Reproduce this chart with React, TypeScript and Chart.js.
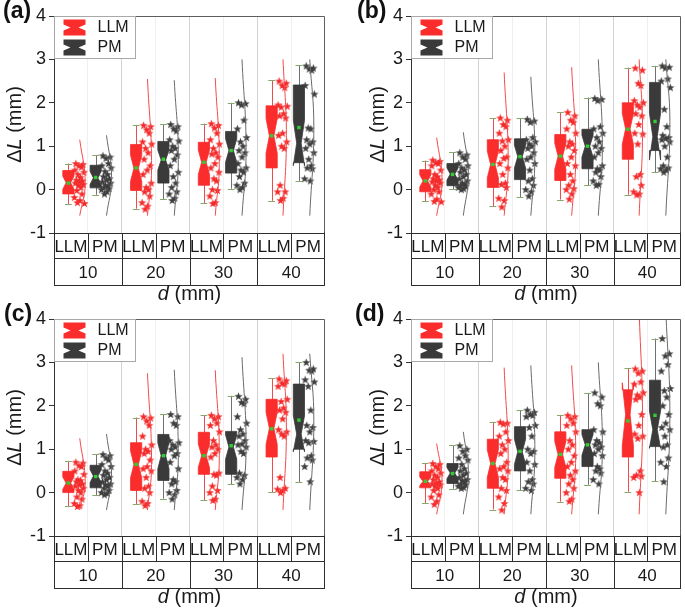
import React, { useEffect, useRef } from 'react';
import { Chart, registerables } from 'chart.js';
Chart.register(...registerables);

const FONT = '"Liberation Sans", Arial, Helvetica, sans-serif';
const GROUPS = ['10', '20', '30', '40'];
const METHODS = ['LLM', 'PM'];
const PANEL_LABELS = ['(a)', '(b)', '(c)', '(d)'];
const Y_TICK_MIN = -1;
const Y_TICK_MAX = 4;

// box stats rows: LLM10, PM10, LLM20, PM20, LLM30, PM30, LLM40, PM40
// [whiskerLow, q1, notchLow, median, notchHigh, q3, whiskerHigh, mean]
const STATS_A = [
  [-0.33, -0.10, 0.01, 0.16, 0.31, 0.44, 0.60, 0.15],
  [-0.12, 0.04, 0.12, 0.27, 0.42, 0.56, 0.80, 0.28],
  [-0.44, -0.02, 0.19, 0.49, 0.79, 1.04, 1.49, 0.50],
  [-0.22, 0.15, 0.45, 0.68, 0.91, 1.11, 1.51, 0.70],
  [-0.31, 0.10, 0.35, 0.63, 0.91, 1.09, 1.52, 0.63],
  [0.02, 0.38, 0.63, 0.90, 1.17, 1.34, 2.00, 0.90],
  [-0.26, 0.50, 0.84, 1.24, 1.64, 1.93, 2.52, 1.24],
  [0.20, 0.62, 0.55, 1.07, 1.60, 2.41, 2.86, 1.43],
];
const STATS_B = [
  [-0.27, -0.05, 0.06, 0.20, 0.34, 0.46, 0.67, 0.20],
  [0.01, 0.09, 0.22, 0.36, 0.50, 0.60, 0.86, 0.35],
  [-0.38, 0.05, 0.27, 0.58, 0.89, 1.15, 1.65, 0.58],
  [-0.18, 0.23, 0.50, 0.76, 1.02, 1.17, 1.65, 0.76],
  [-0.23, 0.21, 0.47, 0.77, 1.07, 1.27, 1.78, 0.77],
  [0.10, 0.48, 0.75, 1.00, 1.25, 1.39, 2.12, 1.00],
  [-0.12, 0.70, 1.04, 1.40, 1.76, 2.00, 2.81, 1.39],
  [0.40, 0.90, 0.68, 1.22, 1.76, 2.47, 2.85, 1.57],
];
const STATS_C = [
  [-0.32, 0.00, 0.08, 0.22, 0.36, 0.49, 0.72, 0.22],
  [-0.06, 0.11, 0.23, 0.38, 0.53, 0.63, 0.89, 0.37],
  [-0.27, 0.05, 0.34, 0.65, 0.96, 1.15, 1.73, 0.65],
  [-0.14, 0.28, 0.55, 0.85, 1.15, 1.34, 1.80, 0.85],
  [-0.18, 0.42, 0.58, 0.85, 1.12, 1.39, 1.78, 0.85],
  [0.19, 0.42, 0.77, 1.05, 1.33, 1.41, 2.23, 1.08],
  [0.01, 0.82, 1.11, 1.48, 1.85, 2.15, 2.63, 1.47],
  [0.24, 1.00, 0.94, 1.35, 1.77, 2.50, 3.00, 1.67],
];
const STATS_D = [
  [-0.25, 0.11, 0.16, 0.26, 0.36, 0.48, 0.68, 0.26],
  [0.09, 0.21, 0.32, 0.45, 0.58, 0.67, 1.09, 0.44],
  [-0.39, 0.10, 0.35, 0.67, 0.99, 1.23, 1.63, 0.67],
  [0.05, 0.50, 0.65, 0.94, 1.23, 1.52, 1.90, 0.95],
  [-0.21, 0.33, 0.58, 0.88, 1.18, 1.40, 1.79, 0.88],
  [0.18, 0.60, 0.86, 1.10, 1.34, 1.45, 2.30, 1.10],
  [0.02, 0.82, 1.08, 1.80, 2.53, 2.37, 2.86, 1.65],
  [0.26, 1.06, 1.02, 1.45, 1.88, 2.59, 3.55, 1.78],
];

// individual data points (stars), same row order
const STARS_A = [
  [0.6, 0.58, 0.55, 0.52, 0.45, 0.4, 0.35, 0.28, 0.22, 0.2, 0.18, 0.15, 0.12, 0.1, 0.05, -0.02, -0.1, -0.18, -0.25, -0.3, -0.32],
  [0.78, 0.75, 0.72, 0.6, 0.55, 0.5, 0.42, 0.35, 0.3, 0.25, 0.22, 0.18, 0.15, 0.1, 0.08, 0.05, 0.02, 0.0, -0.05, -0.1],
  [1.48, 1.45, 1.38, 1.3, 1.1, 1.05, 0.95, 0.85, 0.7, 0.55, 0.45, 0.35, 0.15, 0.05, 0.0, -0.05, -0.15, -0.3, -0.38, -0.45],
  [1.5, 1.45, 1.4, 1.35, 1.15, 1.12, 1.0, 0.95, 0.9, 0.8, 0.7, 0.55, 0.4, 0.3, 0.15, 0.05, -0.05, -0.1, -0.2, -0.25],
  [1.52, 1.48, 1.42, 1.3, 1.15, 1.05, 0.95, 0.85, 0.82, 0.75, 0.6, 0.5, 0.4, 0.25, 0.2, 0.0, -0.02, -0.15, -0.3, -0.32],
  [2.0, 1.98, 1.95, 1.6, 1.4, 1.2, 1.1, 1.0, 0.9, 0.85, 0.75, 0.6, 0.5, 0.45, 0.4, 0.3, 0.15, 0.1, 0.05, 0.0],
  [2.5, 2.45, 2.4, 2.35, 1.95, 1.92, 1.9, 1.75, 1.7, 1.65, 1.3, 1.25, 1.1, 1.0, 0.95, 0.1, -0.05, -0.05, -0.2, -0.25],
  [2.85, 2.8, 2.78, 2.75, 2.4, 2.2, 1.42, 1.4, 1.15, 1.1, 1.05, 0.95, 0.85, 0.7, 0.55, 0.5, 0.48, 0.25, 0.2],
];
const STARS_B = [
  [0.68, 0.65, 0.62, 0.6, 0.55, 0.45, 0.35, 0.3, 0.25, 0.22, 0.2, 0.18, 0.15, 0.1, 0.05, 0.0, -0.05, -0.1, -0.22, -0.27, -0.28],
  [0.85, 0.8, 0.75, 0.7, 0.6, 0.55, 0.5, 0.45, 0.4, 0.35, 0.3, 0.25, 0.2, 0.15, 0.12, 0.1, 0.08, 0.05, 0.02, 0.0],
  [1.65, 1.6, 1.5, 1.45, 1.3, 1.15, 1.12, 1.0, 0.9, 0.75, 0.72, 0.6, 0.5, 0.35, 0.15, 0.12, 0.05, -0.2, -0.25, -0.4],
  [1.62, 1.58, 1.55, 1.2, 1.15, 1.1, 1.05, 1.0, 0.95, 0.85, 0.75, 0.7, 0.6, 0.45, 0.25, 0.2, 0.1, 0.0, -0.05, -0.15],
  [1.78, 1.7, 1.6, 1.55, 1.4, 1.3, 1.1, 1.05, 1.0, 0.9, 0.75, 0.6, 0.55, 0.35, 0.2, 0.1, 0.02, 0.0, -0.1, -0.22],
  [2.1, 2.08, 2.05, 1.45, 1.4, 1.3, 1.2, 1.1, 1.0, 0.95, 0.85, 0.75, 0.55, 0.48, 0.45, 0.4, 0.3, 0.2, 0.12, 0.1],
  [2.8, 2.75, 2.45, 2.4, 2.05, 2.0, 1.95, 1.9, 1.75, 1.7, 1.5, 1.3, 1.28, 1.05, 0.35, 0.3, 0.1, -0.05, -0.1, -0.12],
  [2.85, 2.82, 2.8, 2.55, 2.5, 2.35, 1.85, 1.45, 1.25, 1.2, 1.18, 1.15, 1.1, 1.0, 0.75, 0.55, 0.5, 0.48, 0.45, 0.4],
];
const STARS_C = [
  [0.7, 0.68, 0.62, 0.6, 0.5, 0.42, 0.3, 0.28, 0.25, 0.2, 0.18, 0.15, 0.1, 0.05, 0.0, -0.1, -0.15, -0.25, -0.3, -0.32],
  [0.88, 0.85, 0.8, 0.75, 0.65, 0.6, 0.5, 0.45, 0.4, 0.35, 0.3, 0.25, 0.2, 0.18, 0.15, 0.1, 0.05, 0.0, -0.02, -0.05],
  [1.75, 1.72, 1.65, 1.55, 1.3, 1.1, 1.0, 0.95, 0.9, 0.75, 0.6, 0.55, 0.5, 0.35, 0.15, 0.1, 0.0, -0.2, -0.25, -0.3],
  [1.8, 1.75, 1.6, 1.55, 1.2, 1.15, 1.1, 1.05, 1.0, 0.9, 0.85, 0.7, 0.55, 0.3, 0.25, 0.2, 0.05, 0.0, -0.05, -0.15],
  [1.78, 1.75, 1.7, 1.6, 1.55, 1.4, 1.2, 1.1, 1.05, 1.0, 0.9, 0.82, 0.45, 0.42, 0.4, 0.15, 0.05, 0.0, -0.15, -0.18],
  [2.22, 2.15, 2.08, 2.05, 1.75, 1.6, 1.45, 1.35, 1.3, 1.2, 1.12, 1.1, 1.05, 0.95, 0.9, 0.45, 0.4, 0.35, 0.3, 0.2],
  [2.62, 2.58, 2.52, 2.5, 2.45, 2.15, 2.1, 1.95, 1.9, 1.85, 1.7, 1.45, 1.4, 1.35, 1.3, 0.35, 0.1, 0.08, 0.05, 0.0],
  [3.0, 2.85, 2.82, 2.8, 2.6, 2.55, 2.45, 1.9, 1.55, 1.5, 1.4, 1.2, 1.18, 1.15, 0.85, 0.8, 0.75, 0.6, 0.25],
];
const STARS_D = [
  [0.67, 0.65, 0.6, 0.55, 0.5, 0.45, 0.4, 0.35, 0.3, 0.25, 0.22, 0.2, 0.18, 0.15, 0.1, 0.05, -0.05, -0.1, -0.2, -0.27],
  [1.08, 1.0, 0.95, 0.85, 0.8, 0.75, 0.65, 0.55, 0.5, 0.45, 0.4, 0.35, 0.3, 0.28, 0.25, 0.2, 0.18, 0.15, 0.12, 0.1],
  [1.62, 1.6, 1.58, 1.4, 1.3, 1.2, 1.1, 1.0, 0.9, 0.7, 0.6, 0.55, 0.5, 0.35, 0.3, 0.1, 0.05, -0.1, -0.25, -0.4],
  [1.9, 1.85, 1.8, 1.78, 1.75, 1.55, 1.5, 1.3, 1.0, 0.95, 0.9, 0.7, 0.65, 0.5, 0.3, 0.25, 0.2, 0.1, 0.05],
  [1.78, 1.75, 1.7, 1.6, 1.55, 1.4, 1.2, 1.1, 1.0, 0.85, 0.7, 0.6, 0.5, 0.4, 0.3, 0.2, 0.1, 0.0, -0.15, -0.2],
  [2.3, 2.2, 2.05, 2.0, 1.45, 1.4, 1.2, 1.15, 1.1, 1.05, 1.0, 0.9, 0.85, 0.6, 0.55, 0.5, 0.45, 0.3, 0.2],
  [2.85, 2.8, 2.75, 2.55, 2.5, 2.3, 2.25, 2.2, 2.15, 1.8, 1.55, 1.35, 1.3, 1.25, 0.5, 0.4, 0.38, 0.35, 0.0],
  [3.55, 3.2, 3.15, 2.95, 2.8, 2.4, 2.35, 2.2, 2.0, 1.8, 1.6, 1.5, 1.45, 1.3, 1.1, 1.05, 0.8, 0.7, 0.6, 0.25],
];

// distribution curves: [bottom, peak, top, peak density]
const CURVES_A = [
  [-0.6, 0.15, 1.15, 0.16], [-0.6, 0.28, 1.25, 0.15], [-0.6, 0.5, 2.55, 0.12], [-0.6, 0.7, 2.52, 0.12],
  [-0.6, 0.63, 2.57, 0.12], [-0.6, 0.9, 3.0, 0.12], [-0.6, 1.24, 3.0, 0.1], [-0.6, 1.43, 3.0, 0.12],
];
const CURVES_B = [
  [-0.6, 0.2, 1.2, 0.16], [-0.6, 0.35, 1.32, 0.15], [-0.6, 0.58, 2.7, 0.12], [-0.6, 0.76, 2.6, 0.12],
  [-0.6, 0.77, 2.82, 0.12], [-0.6, 1.0, 3.0, 0.12], [-0.6, 1.39, 3.0, 0.1], [-0.6, 1.57, 3.0, 0.12],
];
const CURVES_C = [
  [-0.4, 0.22, 1.25, 0.16], [-0.4, 0.37, 1.35, 0.15], [-0.4, 0.65, 2.75, 0.12], [-0.4, 0.85, 2.83, 0.12],
  [-0.4, 0.85, 2.82, 0.12], [-0.4, 1.08, 3.12, 0.12], [-0.4, 1.47, 3.2, 0.1], [-0.4, 1.67, 3.2, 0.12],
];
const CURVES_D = [
  [-0.5, 0.26, 1.13, 0.16], [-0.5, 0.44, 1.4, 0.15], [-0.5, 0.67, 2.88, 0.12], [-0.5, 0.95, 2.93, 0.12],
  [-0.5, 0.88, 2.93, 0.12], [-0.5, 1.1, 3.0, 0.12], [-0.5, 1.65, 4.2, 0.1], [-0.5, 1.78, 4.2, 0.12],
];

const PANELS = [
  { stats: STATS_A, stars: STARS_A, curves: CURVES_A },
  { stats: STATS_B, stars: STARS_B, curves: CURVES_B },
  { stats: STATS_C, stars: STARS_C, curves: CURVES_C },
  { stats: STATS_D, stars: STARS_D, curves: CURVES_D },
];

// ---------- layout / style constants ----------
const LAYOUTS = [
  { left: 0, top: 0, w: 342, h: 306, area: { l: 54, r: 325, t: 16, b: 233 }, labelX: 3, titleX: 15 },
  { left: 342, top: 0, w: 343, h: 306, area: { l: 69, r: 340, t: 16, b: 233 }, labelX: 15, titleX: 36 },
  { left: 0, top: 300, w: 342, h: 312, area: { l: 54, r: 325, t: 19, b: 236 }, labelX: 4, titleX: 15 },
  { left: 342, top: 300, w: 343, h: 312, area: { l: 69, r: 340, t: 19, b: 236 }, labelX: 13, titleX: 36 },
];
const Y_AXIS_W = 40;
const BOX_POS = [0.425, 1.23];
const BOX_HALF = 0.165;
const CAP_HALF = 0.1;
const STAR_POS = [0.6, 1.4];
const STAR_SPREAD = 0.3;
const CURVE_POS = [0.76, 1.55];
const JITTER = [0.15, 0.85, 0.45, 0.7, 0.05, 0.95, 0.35, 0.6, 0.2, 0.8, 0.5, 0.1, 0.9, 0.4, 0.65, 0.25, 0.75, 0.0, 0.55, 0.3, 1.0];
const FILL = ['#fb2c2c', '#3a3a3a'];
const STAR_COLOR = ['#f42a2a', '#3e3e3e'];
const CURVE_COLOR = ['#f24a4a', '#6a6a6a'];
const WHISKER_COLOR = ['#f04a4a', '#707070'];
const CAP_COLOR = '#86a86a';
const MEAN_COLOR = '#33cc33';

function makeStar(color: string) {
  const c = document.createElement('canvas');
  c.width = 9; c.height = 9;
  const g = c.getContext('2d')!;
  g.fillStyle = color;
  g.beginPath();
  for (let i = 0; i < 10; i++) {
    const r = i % 2 === 0 ? 4.4 : 1.8;
    const a = -Math.PI / 2 + (i * Math.PI) / 5;
    const px = 4.5 + r * Math.cos(a);
    const py = 4.8 + r * Math.sin(a);
    if (i === 0) g.moveTo(px, py); else g.lineTo(px, py);
  }
  g.closePath();
  g.fill();
  return c;
}

function drawParts(ctx: CanvasRenderingContext2D, parts: [string, boolean][], cx: number, cy: number, size: number) {
  const fonts = parts.map(([, it]) => `${it ? 'italic ' : ''}${size}px ${FONT}`);
  let total = 0;
  const widths = parts.map(([t], i) => { ctx.font = fonts[i]; const w = ctx.measureText(t).width; total += w; return w; });
  let x = cx - total / 2;
  ctx.textAlign = 'left';
  parts.forEach(([t], i) => { ctx.font = fonts[i]; ctx.fillText(t, x, cy); x += widths[i]; });
}

function PanelChart({ index }: { index: number }) {
  const ref = useRef<HTMLCanvasElement>(null);
  const lay = LAYOUTS[index];
  useEffect(() => {
    const canvas = ref.current!;
    const panel = PANELS[index];
    const stars = [makeStar(STAR_COLOR[0]), makeStar(STAR_COLOR[1])];
    const datasets: any[] = [];
    panel.curves.forEach(([lo, pk, hi, dens], k) => {
      const g = Math.floor(k / 2), m = k % 2;
      const xb = g * 2 + CURVE_POS[m];
      datasets.push({
        type: 'line',
        data: [{ x: xb, y: lo }, { x: xb + dens, y: pk }, { x: xb, y: hi }],
        borderColor: CURVE_COLOR[m], borderWidth: 1, pointRadius: 0, tension: 0.45, fill: false, showLine: true,
      });
    });
    panel.stars.forEach((vals, k) => {
      const g = Math.floor(k / 2), m = k % 2;
      const x0 = g * 2 + STAR_POS[m];
      datasets.push({
        type: 'scatter',
        data: vals.map((v, i) => ({ x: x0 + JITTER[i % JITTER.length] * STAR_SPREAD, y: v })),
        pointStyle: stars[m], pointRadius: 4, pointHoverRadius: 4, borderWidth: 0, showLine: false,
      });
    });

    const boxPlugin = {
      id: 'notchedBoxes',
      beforeDatasetsDraw(chart: any) {
        const { ctx, scales } = chart;
        const xs = scales.x, ys = scales.y;
        const Y = (v: number) => ys.getPixelForValue(v);
        ctx.save();
        panel.stats.forEach((s, k) => {
          const [wLo, q1, nLo, med, nHi, q3, wHi, mean] = s;
          const g = Math.floor(k / 2), m = k % 2;
          const c = g * 2 + BOX_POS[m];
          const xc = xs.getPixelForValue(c);
          const hw = xs.getPixelForValue(c + BOX_HALF) - xc;
          const cw = xs.getPixelForValue(c + CAP_HALF) - xc;
          const L = xc - hw, R = xc + hw, ind = hw * 0.6;
          // whisker
          ctx.strokeStyle = WHISKER_COLOR[m];
          ctx.lineWidth = 1;
          ctx.beginPath();
          ctx.moveTo(Math.round(xc) + 0.5, Y(wLo));
          ctx.lineTo(Math.round(xc) + 0.5, Y(wHi));
          ctx.stroke();
          ctx.strokeStyle = CAP_COLOR;
          ctx.beginPath();
          ctx.moveTo(xc - cw, Math.round(Y(wLo)) + 0.5); ctx.lineTo(xc + cw, Math.round(Y(wLo)) + 0.5);
          ctx.moveTo(xc - cw, Math.round(Y(wHi)) + 0.5); ctx.lineTo(xc + cw, Math.round(Y(wHi)) + 0.5);
          ctx.stroke();
          // notched box
          ctx.fillStyle = FILL[m];
          ctx.strokeStyle = FILL[m];
          ctx.beginPath();
          ctx.moveTo(L, Y(q3)); ctx.lineTo(L, Y(nHi)); ctx.lineTo(L + ind, Y(med)); ctx.lineTo(L, Y(nLo)); ctx.lineTo(L, Y(q1));
          ctx.lineTo(R, Y(q1)); ctx.lineTo(R, Y(nLo)); ctx.lineTo(R - ind, Y(med)); ctx.lineTo(R, Y(nHi)); ctx.lineTo(R, Y(q3));
          ctx.closePath();
          ctx.fill();
          ctx.lineWidth = 0.8;
          ctx.stroke();
          // mean
          ctx.fillStyle = MEAN_COLOR;
          ctx.fillRect(xc - 1.7, Y(mean) - 1.7, 3.4, 3.4);
        });
        ctx.restore();
      },
      afterDraw(chart: any) {
        const { ctx, chartArea: a, scales } = chart;
        const xs = scales.x;
        ctx.save();
        // frame top/right
        ctx.strokeStyle = '#5e5e5e';
        ctx.lineWidth = 1;
        ctx.beginPath();
        ctx.moveTo(a.left, a.top + 0.5); ctx.lineTo(a.right - 0.5, a.top + 0.5); ctx.lineTo(a.right - 0.5, a.bottom);
        ctx.stroke();
        // category table
        const b = Math.round(a.bottom) + 0.5;
        const r1 = b + 25, r2 = b + 52;
        ctx.strokeStyle = '#2e2e2e';
        ctx.beginPath();
        ctx.moveTo(a.left, b); ctx.lineTo(a.right, b);
        ctx.moveTo(a.left, r1); ctx.lineTo(a.right, r1);
        ctx.moveTo(a.left, r2); ctx.lineTo(a.right, r2);
        ctx.moveTo(Math.round(a.left) + 0.5, b); ctx.lineTo(Math.round(a.left) + 0.5, r2);
        ctx.moveTo(Math.round(a.right) - 0.5, b - 1); ctx.lineTo(Math.round(a.right) - 0.5, r2);
        for (let i = 1; i < 8; i++) {
          const px = Math.round(xs.getPixelForValue(i)) + 0.5;
          ctx.moveTo(px, b); ctx.lineTo(px, i % 2 === 0 ? r2 : r1);
        }
        ctx.stroke();
        ctx.fillStyle = '#1a1a1a';
        ctx.textAlign = 'center';
        ctx.textBaseline = 'middle';
        ctx.font = `17px ${FONT}`;
        for (let i = 0; i < 8; i++) {
          ctx.fillText(METHODS[i % 2], xs.getPixelForValue(i + 0.5), b + 13.5);
        }
        GROUPS.forEach((gname, g) => ctx.fillText(gname, xs.getPixelForValue(g * 2 + 1), b + 39.5));
        // x title
        ctx.textBaseline = 'alphabetic';
        drawParts(ctx, [['d', true], [' (mm)', false]], (a.left + a.right) / 2, b + 66, 20);
        // y title
        ctx.save();
        ctx.translate(lay.titleX, (a.top + a.bottom) / 2);
        ctx.rotate(-Math.PI / 2);
        ctx.textBaseline = 'middle';
        drawParts(ctx, [['Δ', false], ['L', true], [' (mm)', false]], 0, 0, 20);
        ctx.restore();
        // panel label
        ctx.textAlign = 'left';
        ctx.textBaseline = 'alphabetic';
        ctx.font = `bold 23px ${FONT}`;
        ctx.fillStyle = '#111';
        ctx.fillText(PANEL_LABELS[index], lay.labelX, a.top + 2);
        // legend
        const lx = Math.round(a.left) + 0.5, ly = Math.round(a.top) + 0.5;
        ctx.fillStyle = '#fff';
        ctx.fillRect(lx, ly, 81, 42);
        ctx.strokeStyle = '#a8a8a8';
        ctx.strokeRect(lx, ly, 81, 42);
        [0, 1].forEach((m) => {
          const ix = lx + 9, iy = ly + 3 + m * 20, w = 22, h = 16;
          ctx.fillStyle = FILL[m];
          ctx.beginPath();
          ctx.moveTo(ix, iy); ctx.lineTo(ix + w, iy); ctx.lineTo(ix + w, iy + 5); ctx.lineTo(ix + w - 7, iy + 8);
          ctx.lineTo(ix + w, iy + 11); ctx.lineTo(ix + w, iy + h); ctx.lineTo(ix, iy + h); ctx.lineTo(ix, iy + 11);
          ctx.lineTo(ix + 7, iy + 8); ctx.lineTo(ix, iy + 5);
          ctx.closePath();
          ctx.fill();
          ctx.fillStyle = '#1a1a1a';
          ctx.font = `16px ${FONT}`;
          ctx.textBaseline = 'middle';
          ctx.fillText(METHODS[m], lx + 43, iy + 8.5);
        });
        ctx.restore();
      },
    };

    const chart = new Chart(canvas, {
      type: 'scatter',
      data: { datasets },
      options: {
        animation: false,
        responsive: false,
        maintainAspectRatio: false,
        devicePixelRatio: 1,
        events: [],
        layout: {
          padding: { left: lay.area.l - Y_AXIS_W, top: lay.area.t, right: lay.w - lay.area.r, bottom: lay.h - lay.area.b },
        },
        plugins: { legend: { display: false }, tooltip: { enabled: false } },
        scales: {
          x: {
            type: 'linear', min: 0, max: 8,
            ticks: { display: false, stepSize: 1 },
            grid: {
              drawTicks: false,
              lineWidth: 1,
              color: (ctx: any) => {
                const v = ctx.tick ? ctx.tick.value : 0;
                if (v <= 0 || v >= 8) return 'rgba(0,0,0,0)';
                return v % 2 === 0 ? '#d2d2d2' : '#efefef';
              },
            },
            border: { display: false },
            afterFit: (s: any) => { s.height = 0; },
          },
          y: {
            type: 'linear', min: Y_TICK_MIN, max: Y_TICK_MAX,
            ticks: {
              stepSize: 0.5,
              padding: 3,
              color: '#1a1a1a',
              font: { size: 18, family: FONT },
              callback: (v: any) => (Math.abs(v - Math.round(v)) < 1e-6 ? String(Math.round(v)) : ''),
            },
            grid: { drawOnChartArea: false, drawTicks: true, tickLength: 5, color: '#333' },
            border: { display: true, color: '#333', width: 1 },
            afterFit: (s: any) => { s.width = Y_AXIS_W; },
          },
        },
      },
      plugins: [boxPlugin],
    } as any);
    return () => chart.destroy();
  }, [index]);
  return (
    <canvas
      ref={ref}
      width={lay.w}
      height={lay.h}
      style={{ position: 'absolute', left: lay.left, top: lay.top, width: lay.w, height: lay.h }}
    />
  );
}

export default function App() {
  return (
    <div style={{ position: 'fixed', left: 0, top: 0, width: 685, height: 612, background: '#fff', overflow: 'hidden' }}>
      {[0, 1, 2, 3].map((i) => <PanelChart key={i} index={i} />)}
    </div>
  );
}
